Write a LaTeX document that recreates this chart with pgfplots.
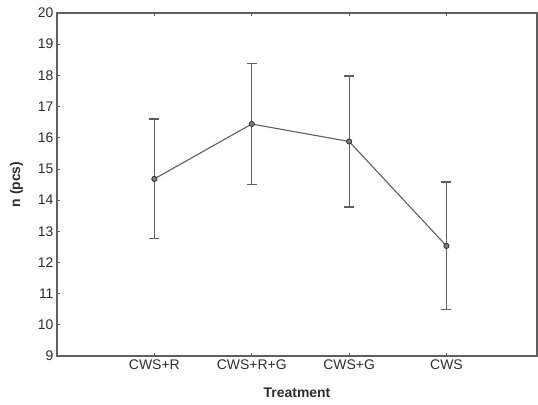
\documentclass[border=0pt]{standalone}
\usepackage{fontspec}
\setmainfont{Liberation Sans}
\usepackage{pgfplots}
\pgfplotsset{compat=1.18}
\usetikzlibrary{calc}
\definecolor{lgray}{RGB}{95,95,95}
\definecolor{tgray}{RGB}{45,45,45}

\begin{document}
\begin{tikzpicture}
\begin{axis}[
  scale only axis,
  width=480bp, height=343bp,
  xmin=0, xmax=4.93, ymin=9, ymax=20,
  xtick={1,2,3,4},
  xticklabels={CWS+R, CWS+R+G, CWS+G, CWS},
  ytick={9,...,20},
  xtick pos=both, ytick pos=left,
  tick align=inside,
  major tick length=3bp,
  axis line style={lgray, line width=1.2bp},
  tick style={lgray, line width=0.8bp},
  tick label style={font=\fontsize{14}{16}\selectfont, text=tgray},
  /pgf/number format/assume math mode=true,
  xlabel={\textbf{Treatment}},
  ylabel={\textbf{n (pcs)}},
  label style={font=\fontsize{14}{16}\selectfont, text=tgray},
  xlabel style={yshift=-12bp},
  ylabel style={yshift=8bp},
]
\addplot[lgray, line width=1.1bp,
  mark=*, mark size=2.6bp,
  mark options={fill=gray, draw=tgray, line width=0.8bp},
  error bars/.cd, y dir=both, y explicit,
  error bar style={lgray, line width=1.1bp},
  error mark options={rotate=90, mark size=5bp, lgray, line width=1.1bp},
] coordinates {
  (1,14.68) +- (0,1.92)
  (2,16.44) +- (0,1.93)
  (3,15.88) +- (0,2.10)
  (4,12.53) +- (0,2.05)
};
\end{axis}
\pgfresetboundingbox
\path ($(current axis.south west)+(-57bp,-49bp)$) rectangle ($(current axis.north east)+(1bp,13bp)$);
\end{tikzpicture}
\end{document}
